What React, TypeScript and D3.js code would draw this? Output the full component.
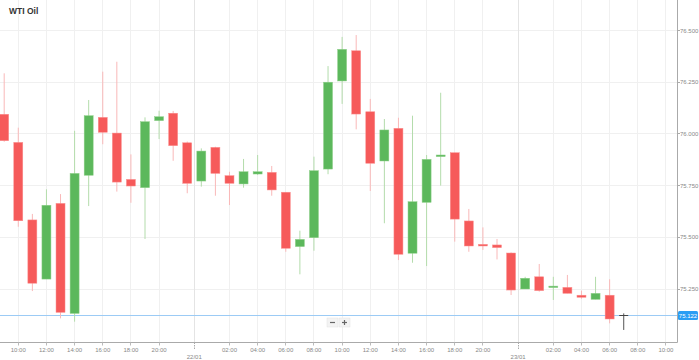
import React from "react";
import * as d3 from "d3";

const title = "WTI Oil";
const opens = [76.095, 75.959, 75.584, 75.298, 75.664, 75.132, 75.800, 76.080, 76.004, 75.780, 75.740, 76.064, 76.100, 75.957, 75.772, 75.935, 75.798, 75.758, 75.806, 75.814, 75.718, 75.455, 75.498, 75.830, 76.256, 76.402, 76.107, 75.869, 76.027, 75.423, 75.669, 75.890, 75.909, 75.579, 75.466, 75.463, 75.424, 75.250, 75.309, 75.258, 75.258, 75.220, 75.200, 75.220, 75.122];
const highs = [76.293, 76.030, 75.613, 75.732, 75.709, 76.015, 76.164, 76.301, 76.349, 75.901, 76.080, 76.112, 76.111, 75.963, 75.930, 75.938, 75.817, 75.879, 75.898, 75.845, 75.718, 75.532, 75.890, 76.328, 76.469, 76.478, 76.169, 76.072, 76.078, 76.088, 75.898, 76.199, 75.909, 75.637, 75.548, 75.492, 75.427, 75.309, 75.371, 75.309, 75.318, 75.242, 75.309, 75.297, 75.132];
const lows = [75.962, 75.551, 75.240, 75.298, 75.108, 75.092, 75.651, 75.950, 75.721, 75.667, 75.492, 75.975, 75.870, 75.713, 75.745, 75.701, 75.656, 75.740, 75.801, 75.701, 75.430, 75.321, 75.435, 75.805, 76.145, 76.022, 75.724, 75.568, 75.390, 75.377, 75.361, 75.750, 75.479, 75.430, 75.439, 75.393, 75.221, 75.250, 75.237, 75.197, 75.229, 75.203, 75.200, 75.084, 75.052];
const closes = [75.967, 75.580, 75.278, 75.655, 75.137, 75.809, 76.088, 76.008, 75.767, 75.748, 76.059, 76.083, 75.943, 75.761, 75.917, 75.809, 75.761, 75.817, 75.817, 75.729, 75.447, 75.490, 75.822, 76.250, 76.409, 76.096, 75.858, 76.019, 75.418, 75.672, 75.877, 75.898, 75.588, 75.458, 75.458, 75.450, 75.245, 75.302, 75.242, 75.264, 75.229, 75.210, 75.229, 75.105, 75.122];

const timeTickIdx = [1, 3, 5, 7, 9, 11, 16, 18, 20, 22, 24, 26, 28, 30, 32, 34, 39, 41, 43, 45, 47];
const timeTickLabels = ["10:00", "12:00", "14:00", "16:00", "18:00", "20:00", "02:00", "04:00", "06:00", "08:00", "10:00", "12:00", "14:00", "16:00", "18:00", "20:00", "02:00", "04:00", "06:00", "08:00", "10:00"];
const dateTickIdx = [13.5, 36.5];
const dateTickLabels = ["22/01", "23/01"];
const priceTicks = [75.25, 75.5, 75.75, 76.0, 76.25, 76.5];
const lastPrice = 75.122;

const W = 699;
const H = 360;
const axisX = 677.5;
const axisY = 342.5;

export default function App() {
  const x = d3.scaleLinear().domain([0, 47]).range([4.2, 4.2 + 47 * 14.08]);
  const y = d3.scaleLinear().domain([75.25, 76.5]).range([289.0, 30.5]);
  const snap = (v: number) => Math.floor(v) + 0.5;
  const bodyW = 9;
  const fmt = d3.format(".3f");
  const font = "Arial, 'Liberation Sans', sans-serif";
  const lastY = snap(y(lastPrice));

  return (
    <svg width={W} height={H} style={{ position: "absolute", left: 0, top: 0, background: "#fff" }} fontFamily={font}>
      <rect x={0} y={0} width={W} height={H} fill="#fff" />
      {/* grid */}
      {priceTicks.map((p, i) => (
        <line key={"hg" + i} x1={0} x2={axisX} y1={snap(y(p))} y2={snap(y(p))} stroke="#f0f0f0" strokeWidth={1} />
      ))}
      {timeTickIdx.map((t, i) => (
        <line key={"vg" + i} x1={snap(x(t))} x2={snap(x(t))} y1={0} y2={axisY} stroke="#f0f0f0" strokeWidth={1} />
      ))}
      {dateTickIdx.map((t, i) => (
        <line key={"dg" + i} x1={snap(x(t))} x2={snap(x(t))} y1={0} y2={axisY} stroke="#e4e4e4" strokeWidth={1} />
      ))}
      {/* title */}
      <text x={9} y={14} fontSize={8.5} fontWeight="bold" fill="#333">{title}</text>
      {/* last price line */}
      <line x1={0} x2={axisX} y1={lastY} y2={lastY} stroke="#9ccbf5" strokeWidth={1.2} />
      {/* candles */}
      {opens.map((o, i) => {
        const c = closes[i];
        const last = i === opens.length - 1;
        const up = c >= o;
        const body = last ? "#444" : up ? "#5cb85c" : "#f65a5a";
        const wick = last ? "#555" : up ? "#b3dcab" : "#f9b8b8";
        const cx = x(i);
        const top = y(Math.max(o, c));
        const bot = y(Math.min(o, c));
        return (
          <g key={"c" + i}>
            <line x1={cx} x2={cx} y1={y(highs[i])} y2={y(lows[i])} stroke={wick} strokeWidth={1} />
            {last ? (
              <line x1={cx - bodyW / 2} x2={cx + bodyW / 2} y1={lastY} y2={lastY} stroke={body} strokeWidth={1} />
            ) : (
              <rect x={cx - bodyW / 2} y={top} width={bodyW} height={Math.max(bot - top, 1.5)} fill={body} stroke={up ? "#8fd08a" : "#fb8f8f"} strokeWidth={0.5} />
            )}
          </g>
        );
      })}
      {/* axes */}
      <line x1={axisX} x2={axisX} y1={0} y2={axisY} stroke="#aaa" strokeWidth={1} />
      <line x1={0} x2={axisX} y1={axisY} y2={axisY} stroke="#aaa" strokeWidth={1} />
      {priceTicks.map((p, i) => (
        <g key={"pt" + i}>
          <line x1={axisX} x2={axisX + 2.5} y1={snap(y(p))} y2={snap(y(p))} stroke="#aaa" />
          <text x={axisX + 2.5} y={y(p) + 2} fontSize={6} fill="#888">{fmt(p)}</text>
        </g>
      ))}
      <rect x={axisX + 0.5} y={lastY - 4.5} width={20} height={9} rx={1.5} fill="#2a9df4" />
      <text x={axisX + 10.5} y={lastY + 2} fontSize={6} fill="#fff" textAnchor="middle">{fmt(lastPrice)}</text>
      {timeTickIdx.map((t, i) => (
        <g key={"tt" + i}>
          <line x1={snap(x(t))} x2={snap(x(t))} y1={axisY} y2={axisY + 3} stroke="#bbb" />
          <text x={x(t)} y={axisY + 9} fontSize={6} fill="#888" textAnchor="middle">{timeTickLabels[i]}</text>
        </g>
      ))}
      {dateTickIdx.map((t, i) => (
        <g key={"dt" + i}>
          <line x1={snap(x(t))} x2={snap(x(t))} y1={axisY} y2={axisY + 7} stroke="#aaa" strokeDasharray="1.5,1" />
          <text x={x(t)} y={axisY + 16} fontSize={6} fill="#888" textAnchor="middle">{dateTickLabels[i]}</text>
        </g>
      ))}
      {/* zoom buttons */}
      <g>
        <rect x={327} y={318} width={11} height={9} fill="#f3f3f3" stroke="#e2e2e2" strokeWidth={0.5} />
        <rect x={339} y={318} width={11} height={9} fill="#f3f3f3" stroke="#e2e2e2" strokeWidth={0.5} />
        <line x1={330} x2={335} y1={322.5} y2={322.5} stroke="#666" strokeWidth={1.2} />
        <line x1={342} x2={347} y1={322.5} y2={322.5} stroke="#666" strokeWidth={1.2} />
        <line x1={344.5} x2={344.5} y1={320} y2={325} stroke="#666" strokeWidth={1.2} />
      </g>
    </svg>
  );
}
